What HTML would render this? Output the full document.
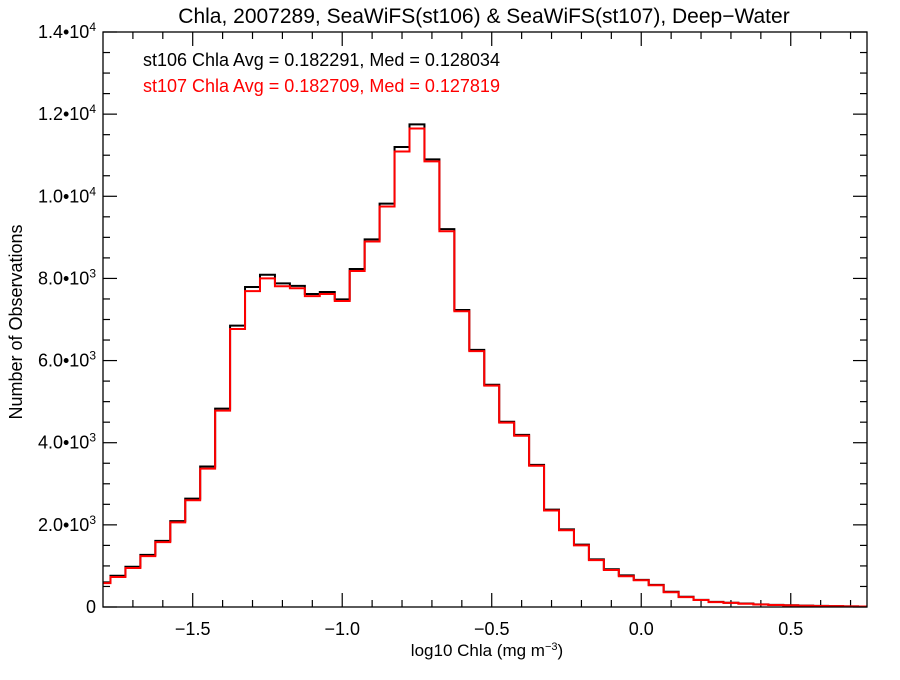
<!DOCTYPE html>
<html><head><meta charset="utf-8"><style>
body{margin:0;background:#fff}
svg{font-family:"Liberation Sans",Arial,sans-serif}
</style></head><body>
<svg width="900" height="675" xmlns="http://www.w3.org/2000/svg">
<text x="484" y="23" font-size="21" text-anchor="middle">Chla, 2007289, SeaWiFS(st106) &amp; SeaWiFS(st107), Deep−Water</text>
<text x="143" y="66" font-size="18">st106 Chla Avg = 0.182291, Med = 0.128034</text>
<text x="143" y="92" font-size="18" fill="#ff0000">st107 Chla Avg = 0.182709, Med = 0.127819</text>
<text x="487" y="656" font-size="17" text-anchor="middle">log10 Chla (mg m<tspan dy="-6" font-size="11">−3</tspan><tspan dy="6">)</tspan></text>
<text transform="translate(22,322) rotate(-90)" font-size="18" text-anchor="middle">Number of Observations</text>
<g id="axes"></g>
<g id="series"></g>
<rect x="103" y="32" width="764" height="575" fill="none" stroke="#000" stroke-width="1.3"/>
</svg>
<script>
const binCenters=[-1.8,-1.75,-1.7,-1.65,-1.6,-1.55,-1.5,-1.45,-1.4,-1.35,-1.3,-1.25,-1.2,-1.15,-1.1,-1.05,-1.0,-0.95,-0.9,-0.85,-0.8,-0.75,-0.7,-0.65,-0.6,-0.55,-0.5,-0.45,-0.4,-0.35,-0.3,-0.25,-0.2,-0.15,-0.1,-0.05,0.0,0.05,0.1,0.15,0.2,0.25,0.3,0.35,0.4,0.45,0.5,0.55,0.6,0.65,0.7,0.75];
const st106=[600,760,980,1270,1610,2090,2640,3420,4830,6850,7790,8090,7880,7820,7620,7670,7490,8230,8950,9820,11200,11750,10900,9200,7230,6260,5410,4510,4190,3460,2370,1890,1520,1160,920,770,660,540,370,250,175,125,105,85,65,52,42,32,26,20,15,12];
const st107=[580,730,950,1240,1580,2060,2600,3370,4780,6770,7690,8000,7810,7760,7570,7620,7450,8180,8900,9750,11090,11650,10850,9150,7200,6230,5390,4490,4170,3440,2350,1870,1500,1140,900,750,650,530,360,240,170,120,100,80,60,50,40,30,25,20,15,12];
const binWidth=0.05;
const xTickVals=[-1.5,-1.0,-0.5,0.0,0.5];
const xTickLabels=["−1.5","−1.0","−0.5","0.0","0.5"];
const yTickVals=[0,2000,4000,6000,8000,10000,12000,14000];
const yTickMant=["0","2.0","4.0","6.0","8.0","1.0","1.2","1.4"];
const yTickExp=["","3","3","3","3","4","4","4"];
const X0=103,X1=867,Y0=607,Y1=32,XMIN=-1.8,XMAX=0.755,YMAX=14000;
const sx=v=>X0+(v-XMIN)/(XMAX-XMIN)*(X1-X0);
const sy=c=>Y0-c/YMAX*(Y0-Y1);
const NS="http://www.w3.org/2000/svg";
const axes=document.getElementById('axes'),series=document.getElementById('series');
function line(p,x1,y1,x2,y2){const l=document.createElementNS(NS,'line');l.setAttribute('x1',x1);l.setAttribute('y1',y1);l.setAttribute('x2',x2);l.setAttribute('y2',y2);l.setAttribute('stroke','#000');l.setAttribute('stroke-width','1.2');p.appendChild(l);return l;}
for(let v=-1.7;v<=0.75;v+=0.1){const x=sx(v);const maj=xTickVals.some(t=>Math.abs(t-v)<1e-6);const len=maj?14:7;
const a=line(axes,x,Y0,x,Y0-len);
const b=line(axes,x,Y1,x,Y1+len);}
xTickVals.forEach((v,i)=>{const t=document.createElementNS(NS,'text');t.setAttribute('x',sx(v));t.setAttribute('y',635);t.setAttribute('font-size','18');t.setAttribute('text-anchor','middle');t.textContent=xTickLabels[i];


axes.appendChild(t);});
for(let c=0;c<=14000;c+=500){const y=sy(c);const maj=c%2000===0;const len=maj?14:7;
const a=line(axes,X0,y,X0+len,y);
const b=line(axes,X1,y,X1-len,y);}
yTickVals.forEach((v,i)=>{const t=document.createElementNS(NS,'text');t.setAttribute('x',96);t.setAttribute('y',sy(v)+6);t.setAttribute('font-size','18');t.setAttribute('text-anchor','end');
if(yTickExp[i]){t.innerHTML=yTickMant[i]+'•10<tspan dy="-7" font-size="12">'+yTickExp[i]+'</tspan>';}else{t.textContent=yTickMant[i];}


axes.appendChild(t);});
function stepPath(vals,color,name){let d='';vals.forEach((c,i)=>{const xa=sx(Math.max(binCenters[i]-binWidth/2,XMIN)),xb=sx(Math.min(binCenters[i]+binWidth/2,XMAX)),y=sy(c);d+=(i===0?'M':'L')+xa+' '+y+'L'+xb+' '+y;});
const p=document.createElementNS(NS,'path');p.setAttribute('d',d);p.setAttribute('fill','none');p.setAttribute('stroke',color);p.setAttribute('stroke-width','2');


series.appendChild(p);}
stepPath(st106,'#000','st106-histogram');
stepPath(st107,'#ff0000','st107-histogram');
</script>
</body></html>
